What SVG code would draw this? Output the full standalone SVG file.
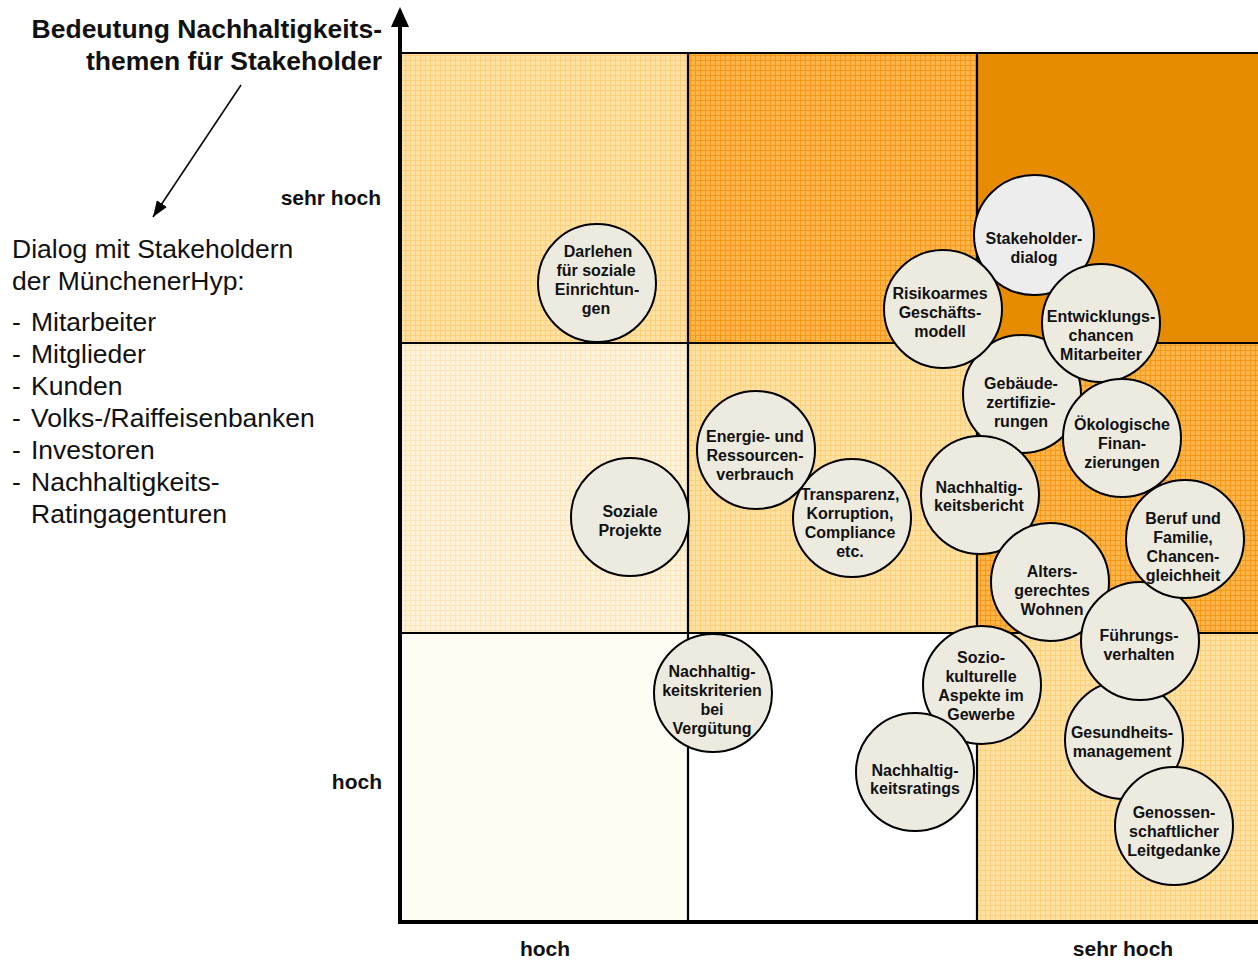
<svg xmlns="http://www.w3.org/2000/svg" width="1258" height="962" viewBox="0 0 1258 962">
<style>
text{font-family:"Liberation Sans",Arial,Helvetica,sans-serif;fill:#111}
.n text{font-size:16px;font-weight:bold;text-anchor:middle}
.n circle{fill:#EDEBE0;stroke:#000;stroke-width:2}
.n circle.g{fill:#EDEDED}
.ax{font-size:21px;font-weight:bold}
.title{font-size:26.5px;font-weight:bold;text-anchor:end}
.list{font-size:26.5px}
.grid{stroke:#000;stroke-width:2.2;fill:none}
</style>
<defs>
<pattern id="pLight" width="5" height="5" patternUnits="userSpaceOnUse">
<rect width="5" height="5" fill="#FFE2A3"/>
<path d="M0 0.5H5M0.5 0V5" stroke="#FDD07C" stroke-width="1"/>
</pattern>
<pattern id="pOrange" width="5" height="5" patternUnits="userSpaceOnUse">
<rect width="5" height="5" fill="#FDB54A"/>
<path d="M0 0.5H5M0.5 0V5" stroke="#F59818" stroke-width="1"/>
</pattern>
<pattern id="pPale" width="5" height="5" patternUnits="userSpaceOnUse">
<rect width="5" height="5" fill="#FEF2DA"/>
<path d="M0 0.5H5M0.5 0V5" stroke="#FCE5B8" stroke-width="1"/>
</pattern>
<marker id="ah" viewBox="0 0 16 12" refX="16" refY="6" markerWidth="16" markerHeight="12" markerUnits="userSpaceOnUse" orient="auto">
<path d="M0 0L16 6L0 12z" fill="#000"/>
</marker>
</defs>

<g id="cells">
<rect x="400" y="53" width="288" height="290" fill="url(#pLight)"/>
<rect x="688" y="53" width="289" height="290" fill="url(#pOrange)"/>
<rect x="977" y="53" width="281" height="290" fill="#E78C00"/>
<rect x="400" y="343" width="288" height="290" fill="url(#pPale)"/>
<rect x="688" y="343" width="289" height="290" fill="url(#pLight)"/>
<rect x="977" y="343" width="281" height="290" fill="url(#pOrange)"/>
<rect x="400" y="633" width="288" height="289" fill="#FEFCF3"/>
<rect x="688" y="633" width="289" height="289" fill="#FFFFFF"/>
<rect x="977" y="633" width="281" height="289" fill="url(#pLight)"/>
<path class="grid" d="M400 53H1258M400 343H1258M400 633H1258M688 53V922M977 53V922"/>
</g>

<g id="axes">
<path d="M400 924V24" stroke="#000" stroke-width="4"/>
<polygon points="391,27 409,27 400,7" fill="#000"/>
<path d="M398 922H1258" stroke="#000" stroke-width="4"/>
</g>

<g id="connectors">
<path d="M241 85L153 217" stroke="#000" stroke-width="1.5" fill="none" marker-end="url(#ah)"/>
</g>

<g id="labels">
<text class="title" x="382" y="37.5">Bedeutung Nachhaltigkeits-</text>
<text class="title" x="382" y="69.5">themen für Stakeholder</text>
<text class="ax" x="381" y="205" text-anchor="end">sehr hoch</text>
<text class="ax" x="382" y="789" text-anchor="end">hoch</text>
<text class="ax" x="545" y="956" text-anchor="middle">hoch</text>
<text class="ax" x="1123" y="956" text-anchor="middle">sehr hoch</text>
<text class="list" x="12" y="258">Dialog mit Stakeholdern</text>
<text class="list" x="12" y="290">der MünchenerHyp:</text>
<text class="list" x="12" y="331">-</text><text class="list" x="31" y="331">Mitarbeiter</text>
<text class="list" x="12" y="363">-</text><text class="list" x="31" y="363">Mitglieder</text>
<text class="list" x="12" y="395">-</text><text class="list" x="31" y="395">Kunden</text>
<text class="list" x="12" y="427">-</text><text class="list" x="31" y="427">Volks-/Raiffeisenbanken</text>
<text class="list" x="12" y="459">-</text><text class="list" x="31" y="459">Investoren</text>
<text class="list" x="12" y="491">-</text><text class="list" x="31" y="491">Nachhaltigkeits-</text>
<text class="list" x="31" y="523">Ratingagenturen</text>
</g>

<g class="n">
<g id="n-stakeholderdialog"><circle class="g" cx="1034" cy="235" r="60"/><text x="1034" y="243.5"><tspan x="1034">Stakeholder-</tspan><tspan x="1034" dy="19.3">dialog</tspan></text></g>
<g id="n-gebaeude"><circle cx="1022" cy="394" r="59"/><text y="388.5"><tspan x="1021">Gebäude-</tspan><tspan x="1021" dy="19.3">zertifizie-</tspan><tspan x="1021" dy="19.3">rungen</tspan></text></g>
<g id="n-risikoarmes"><circle cx="943" cy="309" r="59"/><text y="298.5"><tspan x="940">Risikoarmes</tspan><tspan x="940" dy="19.3">Geschäfts-</tspan><tspan x="940" dy="19.3">modell</tspan></text></g>
<g id="n-entwicklung"><circle cx="1101" cy="323" r="59"/><text y="321.5"><tspan x="1101">Entwicklungs-</tspan><tspan x="1101" dy="19.3">chancen</tspan><tspan x="1101" dy="19.3">Mitarbeiter</tspan></text></g>
<g id="n-oekologisch"><circle cx="1122" cy="438" r="59"/><text y="429.5"><tspan x="1122">Ökologische</tspan><tspan x="1122" dy="19.3">Finan-</tspan><tspan x="1122" dy="19.3">zierungen</tspan></text></g>
<g id="n-bericht"><circle cx="980" cy="495" r="59"/><text y="492.5"><tspan x="979">Nachhaltig-</tspan><tspan x="979" dy="18.7">keitsbericht</tspan></text></g>
<g id="n-transparenz"><circle cx="852" cy="518" r="59"/><text y="499.5"><tspan x="850">Transparenz,</tspan><tspan x="850" dy="19.3">Korruption,</tspan><tspan x="850" dy="19.3">Compliance</tspan><tspan x="850" dy="19.3">etc.</tspan></text></g>
<g id="n-energie"><circle cx="756" cy="450" r="59"/><text y="441.5"><tspan x="755">Energie- und</tspan><tspan x="755" dy="19.3">Ressourcen-</tspan><tspan x="755" dy="19.3">verbrauch</tspan></text></g>
<g id="n-alters"><circle cx="1050" cy="582" r="59"/><text y="576.5"><tspan x="1052">Alters-</tspan><tspan x="1052" dy="19.3">gerechtes</tspan><tspan x="1052" dy="19.3">Wohnen</tspan></text></g>
<g id="n-sozio"><circle cx="982" cy="685" r="59"/><text y="662.5"><tspan x="981">Sozio-</tspan><tspan x="981" dy="19.3">kulturelle</tspan><tspan x="981" dy="19.3">Aspekte im</tspan><tspan x="981" dy="19.3">Gewerbe</tspan></text></g>
<g id="n-gesundheit"><circle cx="1124" cy="740" r="59"/><text y="737.5"><tspan x="1122">Gesundheits-</tspan><tspan x="1122" dy="19.5">management</tspan></text></g>
<g id="n-fuehrung"><circle cx="1140" cy="641" r="59"/><text y="640.5"><tspan x="1139">Führungs-</tspan><tspan x="1139" dy="19.5">verhalten</tspan></text></g>
<g id="n-beruf"><circle cx="1185" cy="539" r="59"/><text y="523.5"><tspan x="1183">Beruf und</tspan><tspan x="1183" dy="19.3">Familie,</tspan><tspan x="1183" dy="19.3">Chancen-</tspan><tspan x="1183" dy="19.3">gleichheit</tspan></text></g>
<g id="n-genossen"><circle cx="1174" cy="826" r="59"/><text y="817.5"><tspan x="1174">Genossen-</tspan><tspan x="1174" dy="19.3">schaftlicher</tspan><tspan x="1174" dy="19.3">Leitgedanke</tspan></text></g>
<g id="n-ratings"><circle cx="915" cy="772" r="59"/><text y="775.5"><tspan x="915">Nachhaltig-</tspan><tspan x="915" dy="18.5">keitsratings</tspan></text></g>
<g id="n-kriterien"><circle cx="713" cy="693" r="59"/><text y="676.5"><tspan x="712">Nachhaltig-</tspan><tspan x="712" dy="19">keitskriterien</tspan><tspan x="712" dy="19">bei</tspan><tspan x="712" dy="19">Vergütung</tspan></text></g>
<g id="n-darlehen"><circle cx="597" cy="283" r="59"/><text y="256.5"><tspan x="598">Darlehen</tspan><tspan x="596" dy="19.3">für soziale</tspan><tspan x="597" dy="19.3">Einrichtun-</tspan><tspan x="596" dy="19.3">gen</tspan></text></g>
<g id="n-soziale"><circle cx="630" cy="517" r="59"/><text y="516.5"><tspan x="630">Soziale</tspan><tspan x="630" dy="19.3">Projekte</tspan></text></g>
</g>
</svg>
